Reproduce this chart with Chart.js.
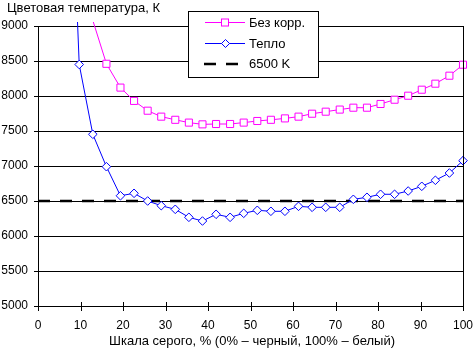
<!DOCTYPE html>
<html>
<head>
<meta charset="utf-8">
<script src="https://cdn.jsdelivr.net/npm/chart.js@4/dist/chart.umd.min.js"></script>
<style>
html,body{margin:0;padding:0;background:#fff;}
#wrap{width:473px;height:349px;}
</style>
</head>
<body>
<div id="wrap"><canvas id="c" width="473" height="349"></canvas></div>
<script>
// Gray levels (%), 32 steps
const grayLevels = [0, 3.2, 6.5, 9.7, 12.9, 16.1, 19.4, 22.6, 25.8, 29.0, 32.3, 35.5, 38.7, 41.9, 45.2, 48.4,
  51.6, 54.8, 58.1, 61.3, 64.5, 67.7, 71.0, 74.2, 77.4, 80.6, 83.9, 87.1, 90.3, 93.5, 96.8, 100];
// "Без корр." (no correction), K
const noCorrection = [null, null, null, null, 9080, 8460, 8120, 7930, 7790, 7705, 7660, 7620, 7595, 7600, 7600, 7620,
  7643, 7660, 7680, 7705, 7747, 7776, 7806, 7833, 7833, 7886, 7947, 8004, 8090, 8176, 8290, 8447];
// "Тепло" (warm), K
const warm = [null, null, 13300, 8450, 7453, 6990, 6575, 6610, 6500, 6433, 6381, 6267, 6214, 6310, 6267, 6324,
  6367, 6353, 6353, 6424, 6410, 6410, 6410, 6524, 6553, 6596, 6596, 6643, 6710, 6796, 6900, 7076];
// reference line
const refX = [0, 100];
const refY = [6500, 6500];
const xTicks = [0, 10, 20, 30, 40, 50, 60, 70, 80, 90, 100];
const yTicks = [5000, 5500, 6000, 6500, 7000, 7500, 8000, 8500, 9000];
const seriesNames = ['Без корр.', 'Тепло', '6500 K'];
const yTitle = 'Цветовая температура, К';
const xTitle = 'Шкала серого, % (0% – черный, 100% – белый)';

const FONT = '"Liberation Sans", Arial, sans-serif';
const toXY = (ys, xs) => xs.map((x, i) => ({x: x, y: ys[i]}));
const isOutside = ctx => !!(ctx.raw && ctx.raw.y > 9000);

const decor = {
  id: 'decor',
  afterDraw(chart) {
    const ctx = chart.ctx;
    const a = chart.chartArea;
    const xs = chart.scales.x;
    ctx.save();
    // right border
    ctx.strokeStyle = '#000';
    ctx.lineWidth = 1;
    ctx.beginPath();
    ctx.moveTo(Math.round(a.right) + 0.5, a.top);
    ctx.lineTo(Math.round(a.right) + 0.5, a.bottom + 0.5);
    ctx.stroke();
    // x tick marks crossing the axis
    ctx.beginPath();
    xTicks.forEach(t => {
      const px = Math.round(xs.getPixelForValue(t)) + 0.5;
      ctx.moveTo(px, a.bottom - 4);
      ctx.lineTo(px, a.bottom + 5);
    });
    ctx.stroke();
    // titles
    ctx.fillStyle = '#000';
    ctx.font = '13px ' + FONT;
    ctx.textBaseline = 'alphabetic';
    ctx.textAlign = 'left';
    ctx.fillText(yTitle, 7, 12);
    ctx.textAlign = 'center';
    ctx.fillText(xTitle, 252, 345);
    // legend
    const L = 188.5, T = 11.5, W = 130, H = 66;
    ctx.fillStyle = '#fff';
    ctx.fillRect(L, T, W, H);
    ctx.strokeStyle = '#000';
    ctx.strokeRect(L, T, W, H);
    const rows = [22.5, 43.5, 64];
    const ds = chart.data.datasets;
    ds.forEach((d, i) => {
      const y = rows[i];
      ctx.save();
      ctx.strokeStyle = d.borderColor;
      ctx.lineWidth = d.borderWidth;
      if (d.borderDash) ctx.setLineDash(d.borderDash);
      ctx.beginPath();
      ctx.moveTo(d.borderDash ? 204 : 205, y);
      ctx.lineTo(d.borderDash ? 241 : 245, y);
      ctx.stroke();
      ctx.setLineDash([]);
      ctx.lineWidth = 1;
      if (d.pointStyle === 'rect') {
        ctx.fillStyle = '#fff';
        ctx.fillRect(221.5, y - 3.5, 7, 7);
        ctx.strokeRect(221.5, y - 3.5, 7, 7);
      } else if (d.pointStyle === 'rectRot') {
        ctx.fillStyle = '#fff';
        ctx.beginPath();
        ctx.moveTo(221.5, y);
        ctx.lineTo(225.5, y - 4);
        ctx.lineTo(229.5, y);
        ctx.lineTo(225.5, y + 4);
        ctx.closePath();
        ctx.fill();
        ctx.stroke();
      }
      ctx.restore();
      ctx.fillStyle = '#000';
      ctx.font = '13px ' + FONT;
      ctx.textAlign = 'left';
      ctx.textBaseline = 'middle';
      ctx.fillText(d.label, 249, y + 0.5);
    });
    ctx.restore();
  }
};

new Chart(document.getElementById('c'), {
  type: 'line',
  data: {
    datasets: [
      {
        label: seriesNames[0],
        data: toXY(noCorrection, grayLevels),
        borderColor: '#FF00FF',
        backgroundColor: '#FFFFFF',
        borderWidth: 1,
        pointStyle: 'rect',
        pointRadius: ctx => isOutside(ctx) ? 0 : 5,
        pointBorderWidth: 1,
        pointBorderColor: '#FF00FF',
        pointBackgroundColor: '#FFFFFF',
        tension: 0,
        clip: {left: 6, top: 4, right: 8, bottom: 6}
      },
      {
        label: seriesNames[1],
        data: toXY(warm, grayLevels),
        borderColor: '#0000FF',
        backgroundColor: '#FFFFFF',
        borderWidth: 1,
        pointStyle: 'rectRot',
        pointRadius: ctx => isOutside(ctx) ? 0 : 4.3,
        pointBorderWidth: 1,
        pointBorderColor: '#0000FF',
        pointBackgroundColor: '#FFFFFF',
        tension: 0,
        clip: {left: 6, top: 4, right: 8, bottom: 6}
      },
      {
        label: seriesNames[2],
        data: toXY(refY, refX),
        borderColor: '#000000',
        borderWidth: 2.5,
        borderDash: [12, 10],
        pointRadius: 0,
        tension: 0
      }
    ]
  },
  options: {
    responsive: false,
    animation: false,
    events: [],
    layout: {padding: {top: 26, right: 10, left: 0, bottom: 0}},
    plugins: {legend: {display: false}, tooltip: {enabled: false}, title: {display: false}},
    scales: {
      x: {
        type: 'linear',
        min: 0, max: 100,
        afterBuildTicks: s => { s.ticks = xTicks.map(v => ({value: v})); },
        ticks: {color: '#000', font: {family: FONT, size: 12}, padding: 12.5, maxRotation: 0, autoSkip: false,
                callback: v => String(v)},
        grid: {display: false, drawTicks: false},
        border: {display: true, color: '#000', width: 1},
        afterFit: s => { s.height = 43; s.paddingLeft = 0; s.paddingRight = 0; }
      },
      y: {
        type: 'linear',
        min: 5000, max: 9000,
        afterBuildTicks: s => { s.ticks = yTicks.map(v => ({value: v})); },
        ticks: {color: '#000', font: {family: FONT, size: 12}, padding: 6, autoSkip: false,
                callback: v => String(v)},
        grid: {color: '#000', lineWidth: 1, drawTicks: true, tickLength: 4, tickColor: '#000'},
        border: {display: true, color: '#000', width: 1},
        afterFit: s => { s.width = 38; s.paddingTop = 0; s.paddingBottom = 0; }
      }
    }
  },
  plugins: [decor]
});
</script>
</body>
</html>
